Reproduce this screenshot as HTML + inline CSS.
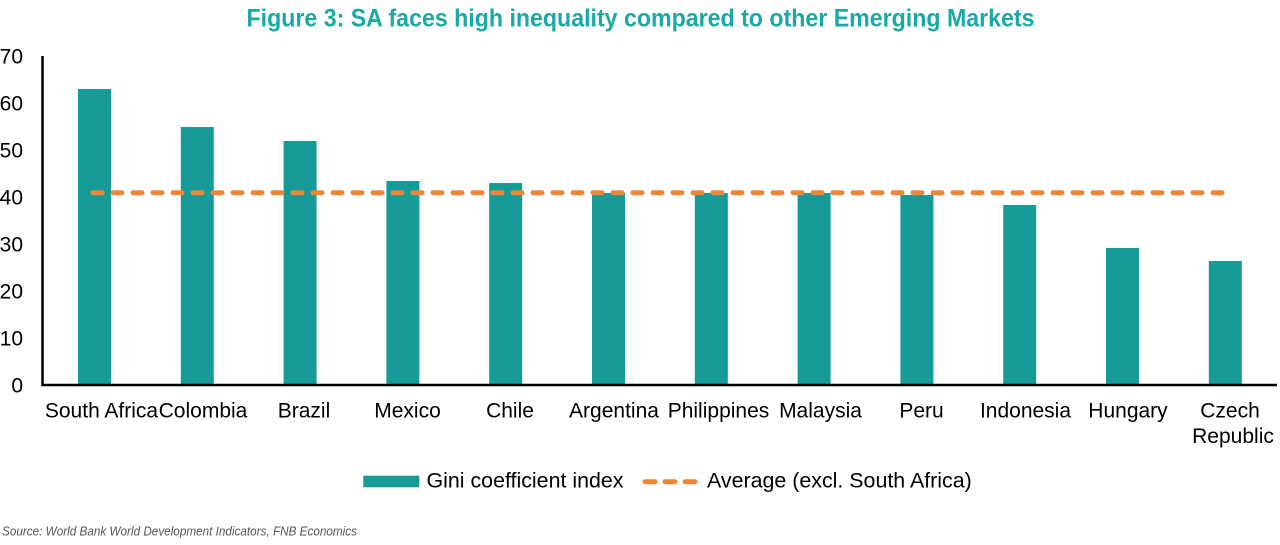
<!DOCTYPE html>
<html>
<head>
<meta charset="utf-8">
<style>
  html, body { margin: 0; padding: 0; background: #ffffff; }
  body { width: 1280px; height: 545px; overflow: hidden; }
  svg { display: block; }
  text { font-family: "Liberation Sans", Arial, sans-serif; }
</style>
</head>
<body>
<svg width="1280" height="545" viewBox="0 0 1280 545" xmlns="http://www.w3.org/2000/svg">
  <rect x="0" y="0" width="1280" height="545" fill="#ffffff"/>

  <!-- Title -->
  <text x="246.5" y="26.5" font-size="25" font-weight="bold" fill="#1BA9A6" textLength="788" lengthAdjust="spacingAndGlyphs">Figure 3: SA faces high inequality compared to other Emerging Markets</text>

  <!-- Y tick labels -->
  <g font-size="21" fill="#000" text-anchor="end">
    <text x="23" y="392.5">0</text>
    <text x="23" y="345.5">10</text>
    <text x="23" y="298.5">20</text>
    <text x="23" y="251.5">30</text>
    <text x="23" y="204.5">40</text>
    <text x="23" y="157.5">50</text>
    <text x="23" y="110.5">60</text>
    <text x="23" y="63.5">70</text>
  </g>

  <!-- Bars -->
  <g fill="#169B99">
    <rect x="78.0"   y="89"  width="33" height="295"/>
    <rect x="180.8"  y="127" width="33" height="257"/>
    <rect x="283.6"  y="141" width="33" height="243"/>
    <rect x="386.4"  y="181" width="33" height="203"/>
    <rect x="489.2"  y="183" width="33" height="201"/>
    <rect x="592.0"  y="193" width="33" height="191"/>
    <rect x="694.8"  y="193" width="33" height="191"/>
    <rect x="797.6"  y="193" width="33" height="191"/>
    <rect x="900.4"  y="195" width="33" height="189"/>
    <rect x="1003.2" y="205" width="33" height="179"/>
    <rect x="1106.0" y="248" width="33" height="136"/>
    <rect x="1208.8" y="261" width="33" height="123"/>
  </g>

  <!-- Average dashed line -->
  <line x1="93" y1="192.7" x2="1226" y2="192.7" stroke="#F08536" stroke-width="5" stroke-dasharray="9 11" stroke-linecap="round"/>

  <!-- Axes -->
  <line x1="42.5" y1="56" x2="42.5" y2="386" stroke="#000" stroke-width="2.5"/>
  <line x1="41.5" y1="385" x2="1277" y2="385" stroke="#000" stroke-width="2.5"/>

  <!-- X labels -->
  <g font-size="21" fill="#000" text-anchor="middle">
    <text x="101.5" y="417.5">South Africa</text>
    <text x="203" y="417.5">Colombia</text>
    <text x="304" y="417.5">Brazil</text>
    <text x="407.5" y="417.5">Mexico</text>
    <text x="510" y="417.5">Chile</text>
    <text x="614" y="417.5">Argentina</text>
    <text x="718.5" y="417.5">Philippines</text>
    <text x="820.5" y="417.5">Malaysia</text>
    <text x="921.5" y="417.5">Peru</text>
    <text x="1025.5" y="417.5">Indonesia</text>
    <text x="1128" y="417.5">Hungary</text>
    <text x="1230" y="417.5">Czech</text>
    <text x="1233" y="443">Republic</text>
  </g>

  <!-- Legend -->
  <rect x="363.3" y="475.7" width="56" height="11.6" fill="#169B99"/>
  <text x="426.5" y="487.5" font-size="21.4" fill="#000">Gini coefficient index</text>
  <line x1="645" y1="481.7" x2="695" y2="481.7" stroke="#F08536" stroke-width="5" stroke-dasharray="10 10" stroke-linecap="round"/>
  <text x="707" y="487.5" font-size="21.4" fill="#000">Average (excl. South Africa)</text>

  <!-- Source -->
  <text x="2" y="535.5" font-size="12.5" font-style="italic" fill="#555555" textLength="355" lengthAdjust="spacingAndGlyphs">Source: World Bank World Development Indicators, FNB Economics</text>
</svg>
</body>
</html>
